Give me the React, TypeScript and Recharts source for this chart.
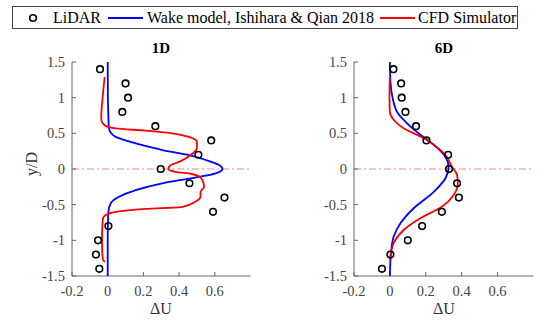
import React from "react";
import { ScatterChart, Scatter, XAxis, YAxis, ReferenceLine } from "recharts";

// ---------- data ----------
const lidarY = [1.4, 1.2, 1.0, 0.8, 0.6, 0.4, 0.2, 0, -0.2, -0.4, -0.6, -0.8, -1.0, -1.2, -1.4];
const lidar1D = [-0.043, 0.1, 0.114, 0.082, 0.267, 0.58, 0.508, 0.297, 0.458, 0.654, 0.59, 0.004, -0.054, -0.066, -0.047];
const lidar6D = [0.02, 0.063, 0.066, 0.087, 0.146, 0.204, 0.325, 0.33, 0.375, 0.385, 0.29, 0.18, 0.1, 0.003, -0.044];

const wake1D_y = [1.5, 1.0, 0.8, 0.6, 0.55, 0.5, 0.45, 0.4, 0.36, 0.3, 0.266, 0.2, 0.126, 0.056, 0.0, -0.06, -0.12, -0.2, -0.295, -0.39, -0.48, -0.6, -0.8, -1.0, -1.5];
const wake1D_x = [0, 0.001, 0.003, 0.006, 0.009, 0.02, 0.045, 0.1, 0.157, 0.25, 0.306, 0.445, 0.55, 0.624, 0.643, 0.605, 0.49, 0.306, 0.157, 0.063, 0.017, 0.004, 0.001, 0, 0];

const cfd1D_y = [1.29, 1.1, 0.9, 0.75, 0.68, 0.62, 0.59, 0.57, 0.537, 0.5, 0.45, 0.38, 0.29, 0.196, 0.1, 0.05, 0.0, -0.04, -0.07, -0.1, -0.154, -0.25, -0.32, -0.39, -0.46, -0.53, -0.56, -0.6, -0.645, -0.69, -0.8, -1.0, -1.2, -1.28, -1.3];
const cfd1D_x = [-0.017, -0.025, -0.032, -0.036, -0.035, -0.02, 0.0, 0.045, 0.213, 0.36, 0.455, 0.5, 0.5, 0.465, 0.4, 0.35, 0.34, 0.38, 0.47, 0.51, 0.53, 0.54, 0.52, 0.52, 0.49, 0.42, 0.213, 0.045, -0.011, -0.026, -0.03, -0.032, -0.03, -0.025, -0.015];

const wake6D_y = [1.5, 1.2, 1.0, 0.78, 0.64, 0.48, 0.34, 0.17, 0.03, -0.13, -0.32, -0.55, -0.76, -0.95, -1.16, -1.5];
const wake6D_x = [0, 0.004, 0.015, 0.045, 0.096, 0.17, 0.245, 0.31, 0.328, 0.31, 0.245, 0.133, 0.059, 0.021, 0.007, 0];

const cfd6D_y = [1.28, 1.1, 0.97, 0.8, 0.69, 0.57, 0.43, 0.31, 0.196, 0.03, -0.084, -0.2, -0.365, -0.53, -0.69, -0.855, -1.04, -1.16, -1.28];
const cfd6D_x = [0, -0.002, -0.002, 0, 0.021, 0.077, 0.19, 0.26, 0.31, 0.347, 0.375, 0.379, 0.356, 0.29, 0.17, 0.077, 0.021, 0.007, 0];

const xTicks = [-0.2, 0, 0.2, 0.4, 0.6];
const yTicks = [-1.5, -1, -0.5, 0, 0.5, 1, 1.5];
const panelTitles = ["1D", "6D"];
const legendLabels = ["LiDAR", "Wake model, Ishihara & Qian 2018", "CFD Simulator"];

const zip = (xs: number[], ys: number[]) => xs.map((x, i) => ({ x, y: ys[i] }));

const FONT = "Liberation Serif";
const AXIS = "#666";

const XTick = (p: any) => (
  <text x={p.x} y={p.y} dy="0.71em" textAnchor="middle" fill="#444" fontSize={14.5} fontFamily={FONT} style={{ fontFamily: FONT }}>
    {String(p.payload.value)}
  </text>
);
const YTick = (p: any) => (
  <text x={p.x} y={p.y} dy="0.355em" textAnchor="end" fill="#444" fontSize={14.5} fontFamily={FONT} style={{ fontFamily: FONT }}>
    {String(p.payload.value)}
  </text>
);

const Circle = (p: any) => (
  <circle cx={p.cx} cy={p.cy} r={3.3} fill="none" stroke="#000" strokeWidth={1.6} />
);
const Nothing = () => <g />;

function Panel({ lidar, wake, cfd, left, marginLeft, marginRight }: any) {
  return (
    <div style={{ position: "absolute", left, top: 0, fontFamily: FONT }}>
      <ScatterChart
        width={275}
        height={320}
        margin={{ top: 62, right: marginRight, bottom: 19, left: marginLeft }}
      >
        <XAxis
          type="number"
          dataKey="x"
          domain={[-0.2, 0.8]}
          allowDataOverflow
          ticks={xTicks}
          height={25}
          tickSize={-4}
          tickMargin={14}
          stroke={AXIS}
          tick={XTick}
        />
        <XAxis
          xAxisId="top"
          orientation="top"
          type="number"
          domain={[-0.2, 0.8]}
          allowDataOverflow
          ticks={xTicks}
          height={0}
          tickSize={-4}
          stroke={AXIS}
          tick={false}
        />
        <YAxis
          type="number"
          dataKey="y"
          domain={[-1.5, 1.5]}
          allowDataOverflow
          ticks={yTicks}
          width={40}
          tickSize={-4}
          tickMargin={11}
          stroke={AXIS}
          tick={YTick}
        />
        <YAxis
          yAxisId="right"
          orientation="right"
          type="number"
          domain={[-1.5, 1.5]}
          allowDataOverflow
          ticks={yTicks}
          width={0}
          tickSize={-4}
          stroke={AXIS}
          tick={false}
        />
        <ReferenceLine y={0} stroke="#f08a8a" strokeWidth={1} strokeDasharray="7 3 2 3" />
        <Scatter
          data={wake}
          line={{ stroke: "#0000ff", strokeWidth: 1.8 }}
          lineJointType="monotoneY"
          shape={Nothing}
          isAnimationActive={false}
        />
        <Scatter
          data={cfd}
          line={{ stroke: "#ff0000", strokeWidth: 1.8 }}
          lineJointType="monotoneY"
          shape={Nothing}
          isAnimationActive={false}
        />
        <Scatter data={lidar} shape={Circle} isAnimationActive={false} />
      </ScatterChart>
    </div>
  );
}

export default function App() {
  const txt: React.CSSProperties = { position: "absolute", fontFamily: FONT, whiteSpace: "nowrap", lineHeight: "1" };
  return (
    <div style={{ position: "absolute", left: 0, top: 0, width: 550, height: 320, background: "#fff", overflow: "hidden" }}>
      <Panel
        lidar={zip(lidar1D, lidarY)}
        wake={zip(wake1D_x, wake1D_y)}
        cfd={zip(cfd1D_x, cfd1D_y)}
        left={0}
        marginLeft={32}
        marginRight={24.5}
      />
      <Panel
        lidar={zip(lidar6D, lidarY)}
        wake={zip(wake6D_x, wake6D_y)}
        cfd={zip(cfd6D_x, cfd6D_y)}
        left={275}
        marginLeft={39}
        marginRight={16.7}
      />
      {/* titles */}
      <div style={{ ...txt, left: 161, top: 41, transform: "translateX(-50%)", fontSize: 15, fontWeight: "bold" }}>{panelTitles[0]}</div>
      <div style={{ ...txt, left: 444, top: 41, transform: "translateX(-50%)", fontSize: 15, fontWeight: "bold" }}>{panelTitles[1]}</div>
      {/* axis labels */}
      <div style={{ ...txt, left: 161, top: 301, transform: "translateX(-50%)", fontSize: 16, color: "#333" }}>ΔU</div>
      <div style={{ ...txt, left: 444, top: 301, transform: "translateX(-50%)", fontSize: 16, color: "#333" }}>ΔU</div>
      <div style={{ ...txt, left: 32, top: 164, transform: "translate(-50%,-50%) rotate(-90deg)", fontSize: 16, color: "#333" }}>y/D</div>
      {/* legend */}
      <div style={{ position: "absolute", left: 12, top: 6, width: 506, height: 23, border: "1px solid #444", boxSizing: "border-box", background: "#fff" }} />
      <svg style={{ position: "absolute", left: 0, top: 0 }} width={550} height={40}>
        <circle cx={33} cy={18} r={3.3} fill="none" stroke="#000" strokeWidth={1.6} />
        <line x1={108} x2={143} y1={18} y2={18} stroke="#0000ff" strokeWidth={1.8} />
        <line x1={380} x2={415} y1={18} y2={18} stroke="#ff0000" strokeWidth={1.8} />
      </svg>
      <div style={{ ...txt, left: 53, top: 10, fontSize: 16 }}>{legendLabels[0]}</div>
      <div style={{ ...txt, left: 147, top: 10, fontSize: 16 }}>{legendLabels[1]}</div>
      <div style={{ ...txt, left: 418, top: 10, fontSize: 16 }}>{legendLabels[2]}</div>
    </div>
  );
}
